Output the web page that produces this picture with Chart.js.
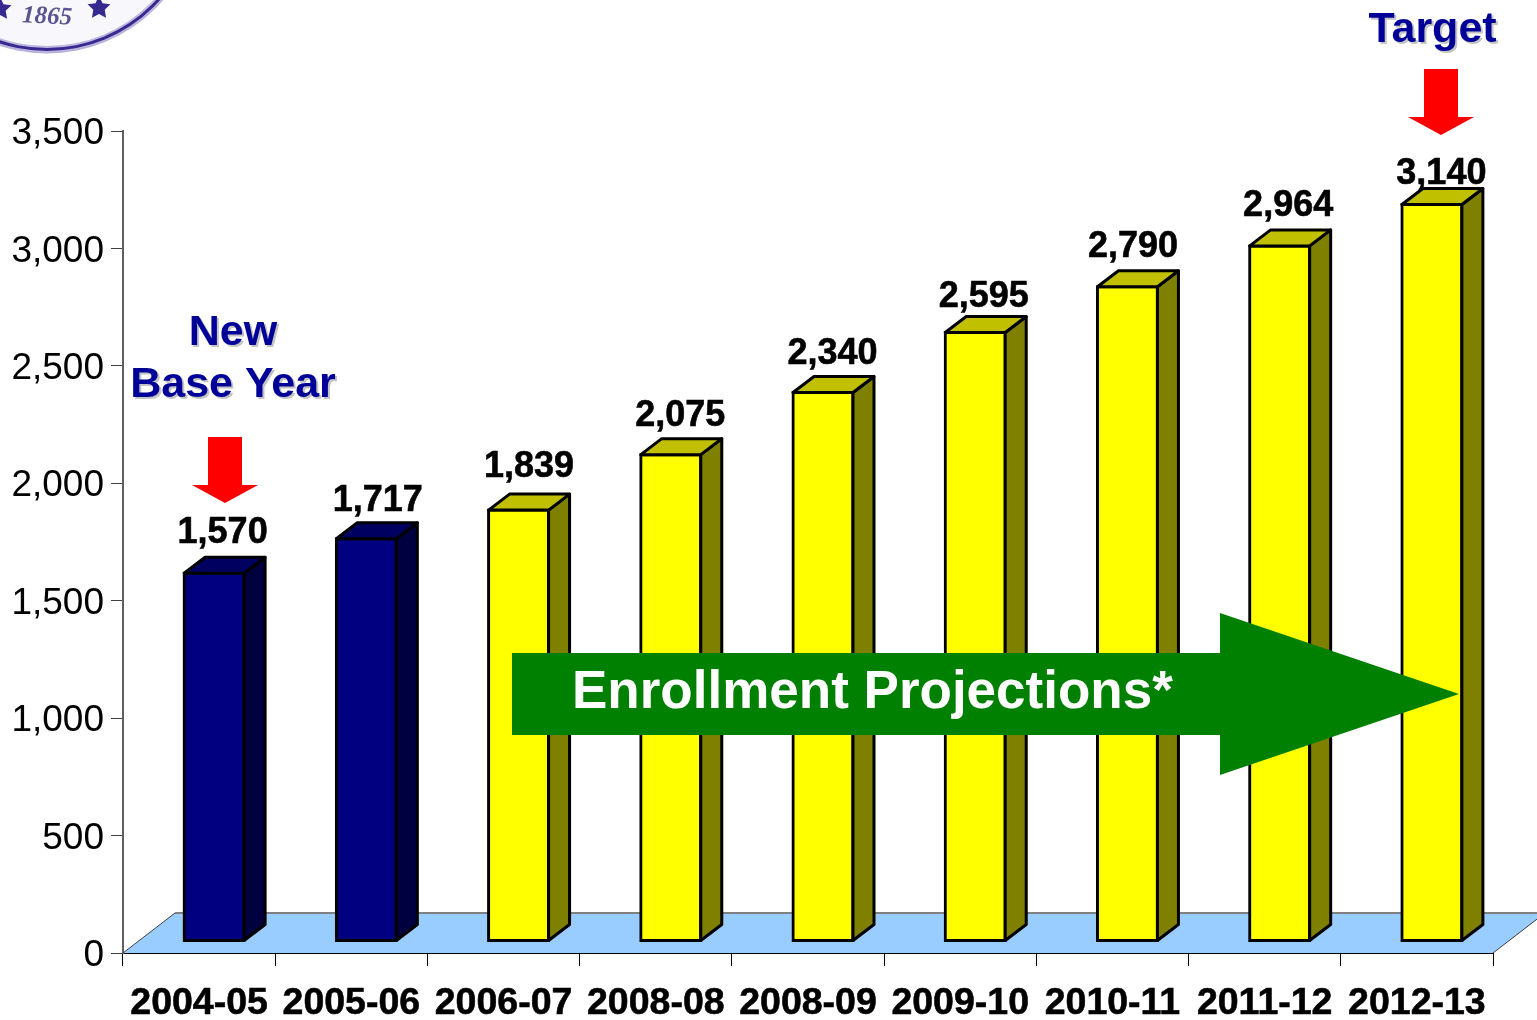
<!DOCTYPE html>
<html lang="en">

<head>
  <meta charset="utf-8">
  <title>Enrollment Projections</title>
  <script src="https://cdn.jsdelivr.net/npm/chart.js@4/dist/chart.umd.min.js"></script>
  <style>
    html, body { margin: 0; padding: 0; background: #fff; overflow: hidden; }
    canvas { display: block; }
  </style>
</head>

<body>
  <canvas id="myChart" width="1537" height="1020"></canvas>

  <script>
    const years = ['2004-05', '2005-06', '2006-07', '2008-08', '2008-09', '2009-10', '2010-11', '2011-12', '2012-13'];
    const enrollment = [1570, 1717, 1839, 2075, 2340, 2595, 2790, 2964, 3140];
    const projected = [false, false, true, true, true, true, true, true, true];

    const FONT = '"Liberation Sans", Arial, sans-serif';

    // 3d look: bars sit back on the floor
    const barShiftX = 15;
    const barShiftY = -11.5;
    const depthX = 21;
    const depthY = -16;
    const floorX = 52;
    const floorY = -40;
    // the labels were placed by hand in the original, so they wander a little
    const labelNudgeX = [8.5, 11.5, 10.5, 9.5, 9.5, 8.5, 5.5, 8.5, 9.5];
    const labelNudgeY = [-30, -27, -33, -28, -28, -25, -29, -29, -20];

    function poly(ctx, pts) {
      ctx.beginPath();
      ctx.moveTo(pts[0][0], pts[0][1]);
      for (let i = 1; i < pts.length; i++) ctx.lineTo(pts[i][0], pts[i][1]);
      ctx.closePath();
    }

    function redArrow(ctx, x, y) {
      ctx.fillStyle = '#ff0000';
      poly(ctx, [[x - 17, y], [x + 17, y], [x + 17, y + 48], [x + 33, y + 48], [x, y + 66], [x - 33, y + 48], [x - 17, y + 48]]);
      ctx.fill();
    }

    function blueText(ctx, text, x, y) {
      ctx.save();
      ctx.font = 'bold 43px ' + FONT;
      ctx.textAlign = 'center';
      ctx.textBaseline = 'alphabetic';
      ctx.fillStyle = '#c4c4c4';
      ctx.fillText(text, x + 2, y + 2);
      ctx.fillStyle = '#000099';
      ctx.fillText(text, x, y);
      ctx.restore();
    }

    function star(ctx, x, y, r) {
      const pts = [];
      for (let i = 0; i < 10; i++) {
        const a = -Math.PI / 2 + i * Math.PI / 5;
        const rr = i % 2 ? r * 0.5 : r;
        pts.push([x + rr * Math.cos(a), y + rr * Math.sin(a)]);
      }
      poly(ctx, pts);
      ctx.fill();
    }

    function drawSeal(ctx) {
      const cx = 47, cy = -100;
      ctx.save();
      ctx.beginPath();
      ctx.arc(cx, cy, 153.4, 0, Math.PI * 2);
      ctx.fillStyle = '#b9b3dc';
      ctx.fill();
      ctx.beginPath();
      ctx.arc(cx, cy, 151, 0, Math.PI * 2);
      ctx.fillStyle = '#37298f';
      ctx.fill();
      ctx.beginPath();
      ctx.arc(cx, cy, 148, 0, Math.PI * 2);
      ctx.fillStyle = '#bdb8de';
      ctx.fill();
      ctx.beginPath();
      ctx.arc(cx, cy, 146, 0, Math.PI * 2);
      ctx.fillStyle = '#f8f8fc';
      ctx.fill();
      ctx.fillStyle = '#35288f';
      star(ctx, 99, 8, 12);
      star(ctx, 0, 9, 12);
      ctx.translate(47, 17);
      ctx.rotate(0.05);
      ctx.font = 'italic bold 25px "Liberation Serif", serif';
      ctx.textAlign = 'center';
      ctx.textBaseline = 'middle';
      ctx.fillStyle = '#5a5590';
      ctx.fillText('1865', 0, 0);
      ctx.restore();
    }

    const bar3d = {
      id: 'bar3d',
      beforeDatasetsDraw(chart) {
        const ctx = chart.ctx;
        const a = chart.chartArea;
        ctx.save();
        ctx.fillStyle = '#99ccff';
        poly(ctx, [[a.left, a.bottom], [a.right, a.bottom], [a.right + floorX, a.bottom + floorY], [a.left + floorX, a.bottom + floorY]]);
        ctx.fill();
        ctx.strokeStyle = '#808080';
        ctx.lineWidth = 2;
        ctx.beginPath();
        ctx.moveTo(a.left + floorX, a.bottom + floorY);
        ctx.lineTo(a.right + floorX, a.bottom + floorY);
        ctx.stroke();
        ctx.strokeStyle = '#404040';
        ctx.lineWidth = 1;
        ctx.beginPath();
        ctx.moveTo(a.left, a.bottom);
        ctx.lineTo(a.left + floorX, a.bottom + floorY);
        ctx.moveTo(a.right, a.bottom);
        ctx.lineTo(a.right + floorX, a.bottom + floorY);
        ctx.stroke();
        ctx.restore();
        // bars get drawn by chart.js inside this shift
        ctx.save();
        ctx.translate(barShiftX, barShiftY);
      },
      afterDatasetsDraw(chart) {
        const ctx = chart.ctx;
        const meta = chart.getDatasetMeta(0);
        ctx.lineWidth = 3;
        ctx.lineJoin = 'round';
        ctx.strokeStyle = '#000';
        meta.data.forEach(function (bar, i) {
          const p = bar.getProps(['x', 'y', 'base', 'width'], true);
          // bar is inflated by 1px, border is 3px wide and sits inside
          const l = p.x - p.width / 2 + 0.5;
          const r = p.x + p.width / 2 - 0.5;
          const t = p.y + 0.5;
          const b = p.base - 0.5;
          ctx.fillStyle = projected[i] ? '#808000' : '#000040';
          poly(ctx, [[r, t], [r + depthX, t + depthY], [r + depthX, b + depthY], [r, b]]);
          ctx.fill();
          ctx.stroke();
          ctx.fillStyle = projected[i] ? '#c0c000' : '#000060';
          poly(ctx, [[l, t], [l + depthX, t + depthY], [r + depthX, t + depthY], [r, t]]);
          ctx.fill();
          ctx.stroke();
        });
        ctx.restore();

        // value labels
        ctx.save();
        ctx.font = 'bold 36px ' + FONT;
        ctx.fillStyle = '#000';
        ctx.strokeStyle = '#000';
        ctx.lineWidth = 0.6;
        ctx.textAlign = 'center';
        ctx.textBaseline = 'alphabetic';
        meta.data.forEach(function (bar, i) {
          const txt = enrollment[i].toLocaleString('en-US');
          const x = bar.x + barShiftX + labelNudgeX[i];
          const y = bar.y + barShiftY + labelNudgeY[i];
          ctx.fillText(txt, x, y);
          ctx.strokeText(txt, x, y);
        });
        ctx.restore();

        // annotations on top
        ctx.save();
        redArrow(ctx, 225, 437);
        redArrow(ctx, 1441, 69);
        blueText(ctx, 'New', 233, 345);
        blueText(ctx, 'Base Year', 233, 397);
        blueText(ctx, 'Target', 1432.5, 42);
        ctx.fillStyle = '#008000';
        poly(ctx, [[512, 653], [1220, 653], [1220, 613], [1459, 694], [1220, 775], [1220, 735], [512, 735]]);
        ctx.fill();
        ctx.font = 'bold 53px ' + FONT;
        ctx.fillStyle = '#fff';
        ctx.textAlign = 'left';
        ctx.textBaseline = 'alphabetic';
        ctx.fillText('Enrollment Projections*', 572, 708);
        drawSeal(ctx);
        ctx.restore();
      }
    };

    const ctx = document.getElementById('myChart');
    const myChart = new Chart(ctx, {
      type: 'bar',
      data: {
        labels: years,
        datasets: [{
          data: enrollment,
          backgroundColor: projected.map(p => p ? '#ffff00' : '#000080'),
          borderColor: '#000',
          borderWidth: 3,
          borderSkipped: false,
          inflateAmount: 1,
          barThickness: 61,
          clip: false
        }]
      },
      options: {
        responsive: false,
        animation: false,
        layout: { padding: { top: 131, right: 44, left: 0, bottom: 0 } },
        plugins: {
          legend: { display: false },
          title: { display: false },
          tooltip: { enabled: false }
        },
        scales: {
          x: {
            afterFit(scale) { scale.height = 67; },
            grid: { drawOnChartArea: false, drawTicks: true, tickLength: 13, color: '#000' },
            border: { color: '#000', width: 2 },
            ticks: {
              autoSkip: false,
              maxRotation: 0,
              minRotation: 0,
              padding: 15,
              color: '#000',
              textStrokeColor: '#000',
              textStrokeWidth: 0.6,
              font: { family: FONT, size: 37.5, weight: 'bold' }
            }
          },
          y: {
            min: 0,
            max: 3500,
            afterFit(scale) { scale.width = 123; },
            grid: { drawOnChartArea: false, drawTicks: true, tickLength: 12, color: '#404040' },
            border: { color: '#606060', width: 2 },
            ticks: {
              stepSize: 500,
              padding: 7,
              color: '#000',
              // the blank first line pushes the number 3px below the tick, like the original
              font: { family: FONT, size: 37, lineHeight: '6px' },
              callback: v => ['', v.toLocaleString('en-US')]
            }
          }
        }
      },
      plugins: [bar3d]
    });
  </script>
</body>

</html>
